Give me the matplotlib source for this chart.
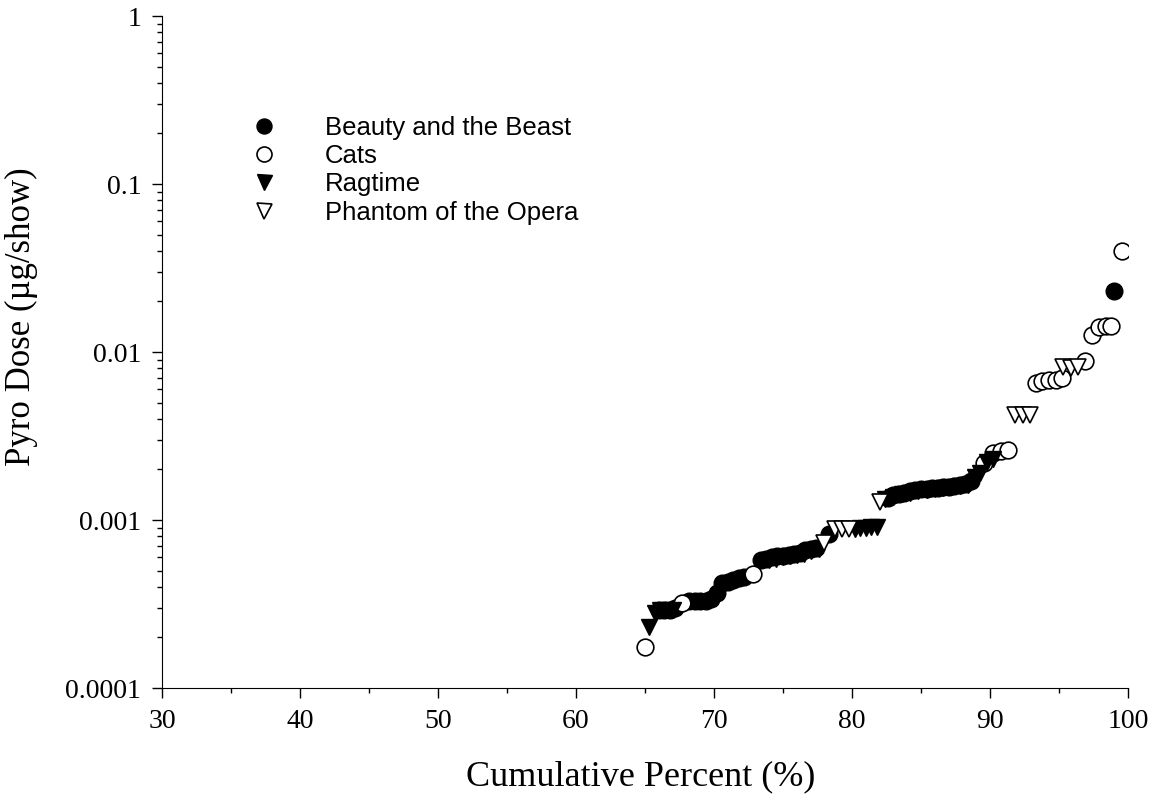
import matplotlib.pyplot as plt

# cumulative percent (%) and pyro dose (ug/show) for each show
beauty_x = [66.0, 66.4, 66.8, 67.2, 68.2, 68.6, 69.0, 69.4, 69.8, 70.2, 70.6, 71.0,
            71.4, 71.8, 72.2, 73.4, 73.8, 74.2, 74.6, 75.0, 75.4, 75.8, 76.2, 76.6,
            77.0, 77.4, 78.3, 82.6, 83.0, 83.4, 83.8, 84.2, 84.6, 85.0, 85.4, 85.8,
            86.2, 86.6, 87.0, 87.4, 87.8, 88.2, 88.6, 99.0]
beauty_y = [0.00029, 0.00029, 0.00029, 0.00030, 0.00033, 0.00033, 0.00033, 0.00033,
            0.00034, 0.00037, 0.00042, 0.00043, 0.00044, 0.00045, 0.00046, 0.00058,
            0.00059, 0.00060, 0.00061, 0.00061, 0.00062, 0.00063, 0.00064, 0.00066,
            0.00067, 0.00068, 0.00083, 0.00135, 0.00140, 0.00143, 0.00145, 0.00148,
            0.00150, 0.00152, 0.00153, 0.00155, 0.00156, 0.00157, 0.00158, 0.00160,
            0.00162, 0.00164, 0.00170, 0.023]

cats_x = [65.0, 67.7, 72.8, 89.6, 90.2, 90.8, 91.3, 93.3, 93.8, 94.3, 94.8, 95.2,
          96.9, 97.4, 97.9, 98.4, 98.8, 99.6]
cats_y = [0.000175, 0.00032, 0.00048, 0.00218, 0.0025, 0.00256, 0.0026, 0.0065,
          0.0067, 0.0068, 0.0068, 0.0070, 0.0089, 0.0126, 0.0141, 0.0142, 0.0143, 0.040]

ragtime_x = [65.3, 65.7, 66.1, 67.0, 74.0, 74.5, 75.0, 75.5, 76.0, 76.5, 77.0, 77.6,
             80.2, 80.6, 81.0, 81.4, 81.8, 82.4, 83.0, 83.6, 84.2, 84.8, 85.4, 86.0,
             86.6, 87.2, 87.8, 88.4, 88.9, 89.3, 89.8, 90.2]
ragtime_y = [0.00023, 0.00028, 0.00029, 0.00029, 0.00058, 0.00059, 0.00060, 0.00061,
             0.00062, 0.00063, 0.00065, 0.00067, 0.00089, 0.00090, 0.00090, 0.00091,
             0.00091, 0.00133, 0.00138, 0.00142, 0.00145, 0.00148, 0.00151, 0.00153,
             0.00155, 0.00157, 0.00159, 0.00162, 0.0018, 0.0019, 0.00222, 0.00230]

phantom_x = [78.0, 78.8, 79.3, 79.8, 82.0, 91.8, 92.4, 92.9, 95.3, 95.9, 96.4]
phantom_y = [0.00073, 0.00089, 0.00089, 0.00089, 0.00128, 0.00422, 0.00420, 0.00422,
             0.0081, 0.0080, 0.0081]

fig = plt.figure(figsize=(11.55, 8.05), dpi=100)
ax = fig.add_axes([0.1403, 0.1453, 0.8363, 0.8348])

ms = 12
ax.plot(beauty_x, beauty_y, "o", color="black", ms=ms, label="Beauty and the Beast")
ax.plot(cats_x, cats_y, "o", mfc="white", mec="black", mew=1.2, ms=ms, label="Cats")
ax.plot(ragtime_x, ragtime_y, "v", color="black", ms=ms, label="Ragtime")
ax.plot(phantom_x, phantom_y, "v", mfc="white", mec="black", mew=1.2, ms=ms,
        label="Phantom of the Opera")

ax.set_yscale("log")
ax.set_ylim(0.0001, 1)
ax.set_xlim(30, 100)
ax.set_xticks(range(30, 101, 10))
ax.set_xticks(range(35, 100, 10), minor=True)
ax.set_yticks([0.0001, 0.001, 0.01, 0.1, 1])
ax.set_yticklabels(["0.0001", "0.001", "0.01", "0.1", "1"])

ax.spines["top"].set_visible(False)
ax.spines["right"].set_visible(False)
ax.tick_params(which="major", direction="out", length=7, width=1, labelsize=20, pad=8)
ax.tick_params(which="minor", direction="out", length=3.6, width=1)
for lab in ax.get_xticklabels() + ax.get_yticklabels():
    lab.set_family("Liberation Serif")

ax.set_xlabel("Cumulative Percent (%)", family="Liberation Serif", fontsize=26)
ax.set_ylabel("Pyro Dose (\u00b5g/show)", family="Liberation Serif", fontsize=25)
ax.xaxis.set_label_coords(0.496, -0.108)
ax.yaxis.set_label_coords(-0.128, 0.552)

ax.legend(loc="upper left", bbox_to_anchor=(0.066, 0.886), frameon=False,
          prop={"family": "Liberation Sans", "size": 18.5}, markerscale=0.9,
          handletextpad=1.75, labelspacing=0.17, handlelength=1.2)

fig.savefig("out.png", dpi=100)
